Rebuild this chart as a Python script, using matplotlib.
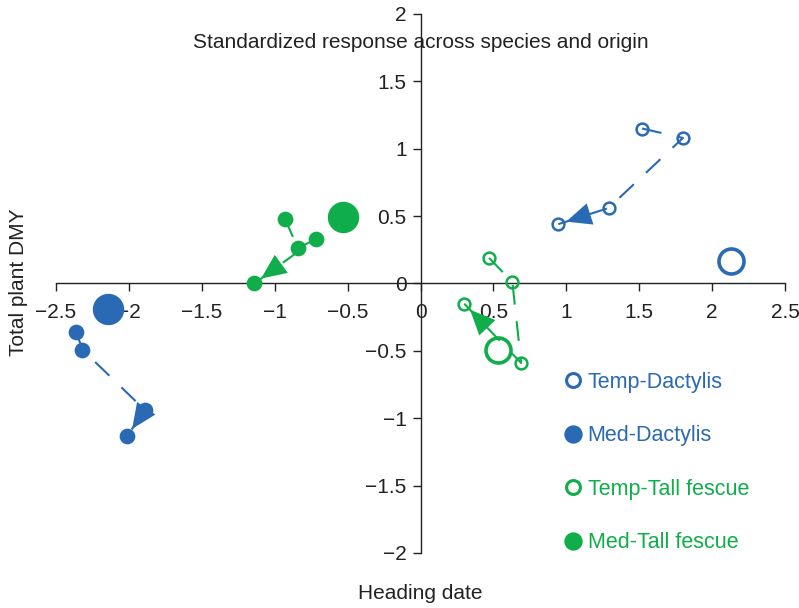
#Standardized response across species and origin

import numpy as np
import matplotlib
matplotlib.use('Agg')
import matplotlib.pyplot as plt
from matplotlib.lines import Line2D

plt.rcParams['font.family'] = ['Liberation Sans', 'DejaVu Sans']

blue = '#2a6ab4'
green = '#0fae4b'

#Trajectories (heading date, total plant DMY), last point gets the arrow
temp_dact_x = [1.52, 1.80, 1.29, 0.945]
temp_dact_y = [1.15, 1.08, 0.56, 0.44]
med_dact_x = [-2.36, -2.32, -1.89, -2.01]
med_dact_y = [-0.36, -0.49, -0.94, -1.13]
temp_fes_x = [0.47, 0.63, 0.69, 0.30]
temp_fes_y = [0.19, 0.01, -0.59, -0.15]
med_fes_x = [-0.93, -0.84, -0.72, -1.14]
med_fes_y = [0.48, 0.26, 0.33, 0.0]

#Large circles (overall position of each group)
big_x = [2.13, -2.14, 0.53, -0.53]
big_y = [0.17, -0.19, -0.49, 0.49]

labels = ['Temp-Dactylis', 'Med-Dactylis', 'Temp-Tall fescue', 'Med-Tall fescue']
colors = [blue, blue, green, green]
filled = [False, True, False, True]

xticks = np.arange(-2.5, 2.51, 0.5)
yticks = np.arange(-2, 2.01, 0.5)

fig = plt.figure(figsize=(7.99, 6.08), dpi=100)
ax = fig.add_axes([0.0701, 0.0905, 0.9124, 0.8865])

series = [(temp_dact_x, temp_dact_y), (med_dact_x, med_dact_y),
          (temp_fes_x, temp_fes_y), (med_fes_x, med_fes_y)]

handles = []
for (xs, ys), c, f, lab, bx, by in zip(series, colors, filled, labels, big_x, big_y):
    fc = c if f else 'none'
    ax.plot(xs, ys, color=c, lw=1.5, linestyle=(0, (9.5, 8)), zorder=2)
    ax.plot(xs, ys, linestyle='none', marker='o', ms=9.5 if f else 8.5,
            mfc=fc, mec=c, mew=1.8, zorder=3, clip_on=False)
    ax.plot([bx], [by], linestyle='none', marker='o', ms=20 if f else 18,
            mfc=fc, mec=c, mew=2.6, zorder=3, clip_on=False)
    #arrow head pointing at the last point
    ax.annotate('', xy=(xs[-1], ys[-1]), xytext=(xs[-2], ys[-2]),
                arrowprops=dict(arrowstyle='-|>,head_length=0.9,head_width=0.4',
                                color=c, lw=0, shrinkA=0, shrinkB=6,
                                mutation_scale=20), zorder=4)
    handles.append(Line2D([], [], linestyle='none', marker='o', ms=11 if f else 10,
                          mfc=fc, mec=c, mew=2.2, label=lab))

ax.set_xlim(-2.5, 2.5)
ax.set_ylim(-2, 2)

ax.spines['left'].set_position(('data', 0))
ax.spines['bottom'].set_position(('data', 0))
ax.spines['top'].set_visible(False)
ax.spines['right'].set_visible(False)
for s in ['left', 'bottom']:
    ax.spines[s].set_color('#222222')
    ax.spines[s].set_linewidth(1)

ax.set_xticks(xticks)
ax.set_yticks(yticks)
ax.set_xticklabels(['%g' % v if v >= 0 else '\u2212%g' % -v for v in xticks])
ax.set_yticklabels(['%g' % v if v >= 0 else '\u2212%g' % -v for v in yticks])
ax.tick_params(direction='out', length=6, width=1, labelsize=15, color='#222222',
               labelcolor='#222222')
ax.tick_params(axis='x', pad=8)
ax.tick_params(axis='y', pad=4)

ax.text(0, 1.79, 'Standardized response across species and origin',
        ha='center', va='center', fontsize=15, color='#222222')

leg = ax.legend(handles=handles, loc='upper left', bbox_to_anchor=(0.895, -0.59),
                bbox_transform=ax.transData, frameon=False, fontsize=15.5,
                labelspacing=1.51, handletextpad=0.1, handlelength=1.2,
                borderaxespad=0, labelcolor=colors)

fig.text(0.526, 0.024, 'Heading date', ha='center', va='center', fontsize=15,
         color='#222222')
fig.text(0.023, 0.535, 'Total plant DMY', ha='center', va='center', fontsize=15,
         rotation=90, color='#222222')

plt.savefig('out.png', dpi=100)
